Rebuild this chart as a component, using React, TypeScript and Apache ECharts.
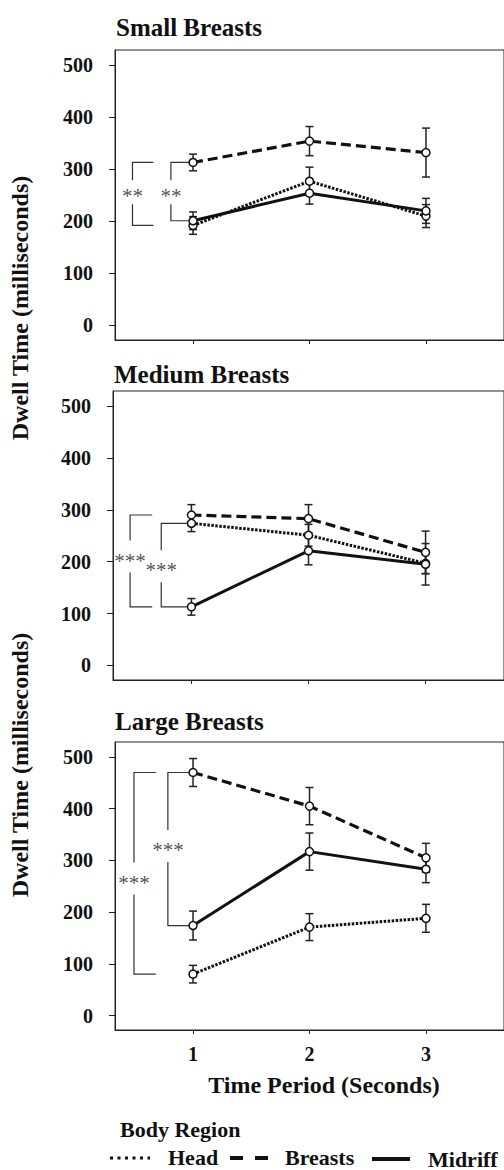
import React, { useEffect, useRef } from 'react';
import * as echarts from 'echarts';

const FONT = '"Liberation Serif", "Times New Roman", serif';

// ---- data ----
const periods = [1, 2, 3];
const yTicks = [0, 100, 200, 300, 400, 500];
const regionNames = ['Head', 'Breasts', 'Midriff'];
const panelTitles = ['Small Breasts', 'Medium Breasts', 'Large Breasts'];

const smallHead = [192, 277, 210];
const smallHeadErr = [17, 27, 22];
const smallBreasts = [313, 354, 332];
const smallBreastsErr = [16, 28, 47];
const smallMidriff = [201, 254, 220];
const smallMidriffErr = [17, 21, 24];

const mediumHead = [274, 251, 197];
const mediumHeadErr = [16, 21, 20];
const mediumBreasts = [290, 283, 218];
const mediumBreastsErr = [20, 27, 41];
const mediumMidriff = [113, 221, 195];
const mediumMidriffErr = [16, 27, 40];

const largeHead = [80, 171, 188];
const largeHeadErr = [17, 26, 27];
const largeBreasts = [470, 405, 305];
const largeBreastsErr = [27, 36, 28];
const largeMidriff = [174, 317, 283];
const largeMidriffErr = [28, 36, 26];

// significance brackets (compare regions at period 1)
const smallBrackets = [
  { upper: 'Breasts', lower: 'Head', text: '**', labelAt: 256 },
  { upper: 'Breasts', lower: 'Midriff', text: '**', labelAt: 256 },
];
const mediumBrackets = [
  { upper: 'Breasts', lower: 'Midriff', text: '***', labelAt: 210 },
  { upper: 'Head', lower: 'Midriff', text: '***', labelAt: 191 },
];
const largeBrackets = [
  { upper: 'Breasts', lower: 'Head', text: '***', labelAt: 265 },
  { upper: 'Breasts', lower: 'Midriff', text: '***', labelAt: 328 },
];

const panelData = [
  { values: [smallHead, smallBreasts, smallMidriff], errs: [smallHeadErr, smallBreastsErr, smallMidriffErr], brackets: smallBrackets },
  { values: [mediumHead, mediumBreasts, mediumMidriff], errs: [mediumHeadErr, mediumBreastsErr, mediumMidriffErr], brackets: mediumBrackets },
  { values: [largeHead, largeBreasts, largeMidriff], errs: [largeHeadErr, largeBreastsErr, largeMidriffErr], brackets: largeBrackets },
];

// ---- layout ----
const layout = [
  { left: 115, top: 50, height: 290, width: 392, titleX: 116, titleY: 27, bracketX: [[0.48, 0.66], [0.81, 0.975]] },
  { left: 113, top: 391, height: 289, width: 391, titleX: 114, titleY: 374, bracketX: [[0.476, 0.665], [0.742, 0.98]] },
  { left: 115, top: 742, height: 288, width: 392, titleX: 115, titleY: 721, bracketX: [[0.493, 0.68], [0.784, 0.985]] },
];

const lineStyles: any[] = [
  { type: [2.5, 1.5], width: 3 },
  { type: [10, 5], width: 3.2 },
  { type: 'solid', width: 3 },
];

export default function App() {
  const ref = useRef<HTMLDivElement>(null);

  useEffect(() => {
    const chart = echarts.init(ref.current!, null, { renderer: 'svg' });

    const grids: any[] = [];
    const xAxes: any[] = [];
    const yAxes: any[] = [];
    const series: any[] = [];
    const graphics: any[] = [];

    layout.forEach((L, i) => {
      const P = panelData[i];
      grids.push({
        left: L.left, top: L.top, width: L.width, height: L.height,
        show: true, borderColor: '#222', borderWidth: 1, backgroundColor: 'transparent',
      });
      xAxes.push({
        gridIndex: i, type: 'value', min: 0.33, max: 3.67,
        axisLine: { show: true, onZero: false, lineStyle: { color: '#222', width: 1 } },
        axisTick: { show: true, length: 4, customValues: periods, lineStyle: { color: '#222' } },
        axisLabel: {
          show: i === 2, customValues: periods, margin: 14,
          fontFamily: FONT, fontWeight: 'bold', fontSize: 20, color: '#111',
        },
        splitLine: { show: false },
      });
      yAxes.push({
        gridIndex: i, type: 'value', min: -28, max: 529,
        axisLine: { show: true, lineStyle: { color: '#222', width: 1 } },
        axisTick: { show: true, length: 6, customValues: yTicks, lineStyle: { color: '#222' } },
        axisLabel: {
          show: true, customValues: yTicks, margin: 22,
          fontFamily: FONT, fontWeight: 'bold', fontSize: 20, color: '#111',
        },
        splitLine: { show: false },
      });

      regionNames.forEach((name, k) => {
        const vals = P.values[k];
        const errs = P.errs[k];
        series.push({
          type: 'custom',
          name: name + ' error',
          xAxisIndex: i, yAxisIndex: i,
          coordinateSystem: 'cartesian2d',
          z: 2,
          encode: { x: 0, y: 1 },
          data: periods.map((p, j) => [p, vals[j], errs[j]]),
          renderItem: (params: any, api: any) => {
            const x = api.value(0), m = api.value(1), e = api.value(2);
            const hi = api.coord([x, m + e]);
            const lo = api.coord([x, m - e]);
            const cap = 4;
            const st = { stroke: '#222', lineWidth: 1.5 };
            return {
              type: 'group',
              children: [
                { type: 'line', shape: { x1: hi[0], y1: hi[1], x2: lo[0], y2: lo[1] }, style: st },
                { type: 'line', shape: { x1: hi[0] - cap, y1: hi[1], x2: hi[0] + cap, y2: hi[1] }, style: st },
                { type: 'line', shape: { x1: lo[0] - cap, y1: lo[1], x2: lo[0] + cap, y2: lo[1] }, style: st },
              ],
            };
          },
        });
        series.push({
          type: 'line',
          name,
          xAxisIndex: i, yAxisIndex: i,
          z: 3,
          data: periods.map((p, j) => [p, vals[j]]),
          lineStyle: { color: '#111', width: lineStyles[k].width, type: lineStyles[k].type },
          symbol: 'circle',
          symbolSize: 8,
          itemStyle: { color: '#fff', borderColor: '#111', borderWidth: 1.5 },
        });
      });

      // brackets
      const brackets = P.brackets;
      series.push({
        type: 'custom',
        name: 'brackets',
        xAxisIndex: i, yAxisIndex: i,
        coordinateSystem: 'cartesian2d',
        z: 2,
        data: brackets.map((b) => [
          1,
          P.values[regionNames.indexOf(b.upper)][0],
          P.values[regionNames.indexOf(b.lower)][0],
          b.labelAt,
        ]),
        renderItem: (params: any, api: any) => {
          const b = brackets[params.dataIndex];
          const [xv, xe] = L.bracketX[params.dataIndex];
          const up = api.value(1), low = api.value(2), lab = api.value(3);
          const t0 = api.coord([xv, up]);
          const t1 = api.coord([xe, up]);
          const b0 = api.coord([xv, low]);
          const b1 = api.coord([xe, low]);
          const lp = api.coord([xv, lab]);
          const gap = b.text.length === 3 ? 16 : 12;
          const st = { stroke: '#333', lineWidth: 1.2, fill: null };
          return {
            type: 'group',
            children: [
              { type: 'polyline', shape: { points: [t1, t0, [t0[0], lp[1] - gap]] }, style: st },
              { type: 'polyline', shape: { points: [[b0[0], lp[1] + gap], b0, b1] }, style: st },
              {
                type: 'text', x: lp[0], y: lp[1] + 4,
                style: { text: b.text, fill: '#555', font: `21px ${FONT}`, align: 'center', verticalAlign: 'middle' },
              },
            ],
          };
        },
      });

      graphics.push({
        type: 'text', x: L.titleX, y: L.titleY,
        style: { text: panelTitles[i], font: `bold 25px ${FONT}`, fill: '#111', align: 'left', verticalAlign: 'middle' },
      });
    });

    // axis titles
    graphics.push({
      type: 'text', x: 20, y: 308, rotation: Math.PI / 2,
      style: { text: 'Dwell Time (milliseconds)', font: `bold 24px ${FONT}`, fill: '#111', align: 'center', verticalAlign: 'middle' },
    });
    graphics.push({
      type: 'text', x: 20, y: 765, rotation: Math.PI / 2,
      style: { text: 'Dwell Time (milliseconds)', font: `bold 24px ${FONT}`, fill: '#111', align: 'center', verticalAlign: 'middle' },
    });
    graphics.push({
      type: 'text', x: 324, y: 1085,
      style: { text: 'Time Period (Seconds)', font: `bold 24px ${FONT}`, fill: '#111', align: 'center', verticalAlign: 'middle' },
    });

    // legend
    const legendFont = `bold 22px ${FONT}`;
    graphics.push({
      type: 'text', x: 120, y: 1129,
      style: { text: 'Body Region', font: legendFont, fill: '#111', align: 'left', verticalAlign: 'middle' },
    });
    graphics.push({
      type: 'line', shape: { x1: 110, y1: 1158, x2: 150, y2: 1158 },
      style: { stroke: '#111', lineWidth: 3, lineDash: [3, 4.5] },
    });
    graphics.push({
      type: 'text', x: 168, y: 1157,
      style: { text: regionNames[0], font: legendFont, fill: '#111', align: 'left', verticalAlign: 'middle' },
    });
    graphics.push({
      type: 'line', shape: { x1: 230, y1: 1158, x2: 268, y2: 1158 },
      style: { stroke: '#111', lineWidth: 4, lineDash: [13, 12] },
    });
    graphics.push({
      type: 'text', x: 285, y: 1157,
      style: { text: regionNames[1], font: legendFont, fill: '#111', align: 'left', verticalAlign: 'middle' },
    });
    graphics.push({
      type: 'line', shape: { x1: 372, y1: 1159, x2: 410, y2: 1159 },
      style: { stroke: '#111', lineWidth: 4 },
    });
    graphics.push({
      type: 'text', x: 428, y: 1159,
      style: { text: regionNames[2], font: legendFont, fill: '#111', align: 'left', verticalAlign: 'middle' },
    });

    chart.setOption({
      animation: false,
      backgroundColor: '#fff',
      grid: grids,
      xAxis: xAxes,
      yAxis: yAxes,
      series,
      graphic: graphics,
    });

    return () => chart.dispose();
  }, []);

  return (
    <div
      ref={ref}
      style={{ position: 'absolute', left: 0, top: 0, width: 504, height: 1170 }}
    />
  );
}
